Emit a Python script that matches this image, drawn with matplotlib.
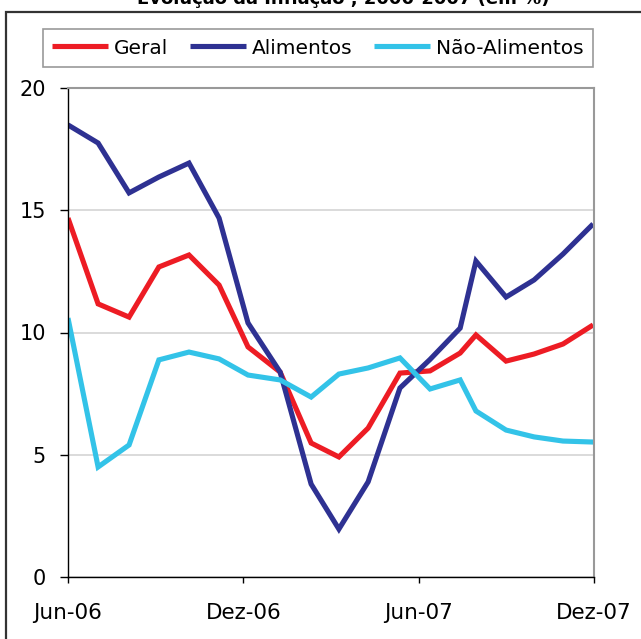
import matplotlib
matplotlib.use("Agg")
import matplotlib.pyplot as plt
from matplotlib.patches import Rectangle

# Month offsets from Jun-06
months = [0.0, 1.03, 2.09, 3.11, 4.14, 5.17, 6.16, 7.26, 8.32, 9.27,
          10.27, 11.36, 12.39, 13.42, 13.96, 14.99, 15.95, 16.94, 17.97]
geral = [14.68, 11.17, 10.63, 12.68, 13.17, 11.94, 9.41, 8.38, 5.48, 4.91,
         6.09, 8.34, 8.43, 9.16, 9.90, 8.83, 9.12, 9.53, 10.31]
alimentos = [18.49, 17.75, 15.71, 16.36, 16.93, 14.68, 10.39, 8.38, 3.80, 1.96,
             3.89, 7.73, 8.90, 10.18, 12.92, 11.45, 12.15, 13.21, 14.44]
nao_alimentos = [10.59, 4.50, 5.40, 8.88, 9.20, 8.92, 8.26, 8.06, 7.36, 8.30,
                 8.55, 8.96, 7.69, 8.06, 6.79, 6.01, 5.73, 5.56, 5.52]

series_names = ["Geral", "Alimentos", "Não-Alimentos"]
colors = ["#ED1C24", "#2E3192", "#33C3E8"]
xtick_pos = [0, 6, 12, 18]
xtick_labels = ["Jun-06", "Dez-06", "Jun-07", "Dez-07"]
yticks = [0, 5, 10, 15, 20]
title = "Evolução da Inflação , 2006-2007 (em %)"

W, H = 641, 639
fig = plt.figure(figsize=(W / 100, H / 100), dpi=100)
fig.patch.set_facecolor("white")

# outer frame
fig.patches.append(Rectangle((6 / W, -0.1), 1.2, 1 - 12 / H + 0.1,
                             transform=fig.transFigure, fill=False,
                             edgecolor="#333333", linewidth=1.6, clip_on=False))

fig.text(343 / W, 1 - 4 / H, title, ha="center", va="baseline",
         fontsize=13, fontweight="bold", color="black")

ax = fig.add_axes([68 / W, 1 - 577 / H, (594 - 68) / W, (577 - 88) / H])
for vals, name, c in zip([geral, alimentos, nao_alimentos], series_names, colors):
    ax.plot(months, vals, color=c, lw=3.7, label=name,
            solid_joinstyle="miter", solid_capstyle="butt")

ax.set_xlim(0, 18)
ax.set_ylim(0, 20)
ax.set_yticks(yticks)
ax.set_xticks(xtick_pos)
ax.set_xticklabels(xtick_labels)
ax.yaxis.grid(True, color="#D4D4D4", lw=1.2)
ax.set_axisbelow(True)
ax.tick_params(axis="y", length=6, width=1, pad=10, labelsize=15, direction="out")
ax.tick_params(axis="x", length=4.5, width=1, pad=14, labelsize=15.5, direction="out")
ax.spines["top"].set_color("#999999")
ax.spines["right"].set_color("#999999")
ax.spines["top"].set_linewidth(1.5)
ax.spines["right"].set_linewidth(1.5)
ax.spines["left"].set_color("black")
ax.spines["bottom"].set_color("black")
ax.spines["left"].set_linewidth(1.0)
ax.spines["bottom"].set_linewidth(1.0)

leg = ax.legend(loc="center", bbox_to_anchor=(318 / W, 1 - 48 / H),
                bbox_transform=fig.transFigure, ncol=3, fontsize=14.5,
                frameon=True, fancybox=False, handlelength=2.75,
                handletextpad=0.3, columnspacing=1.1, borderpad=0.45,
                borderaxespad=0)
leg.get_frame().set_edgecolor("#808080")
leg.get_frame().set_linewidth(1.2)

fig.savefig("out.png", dpi=100)
